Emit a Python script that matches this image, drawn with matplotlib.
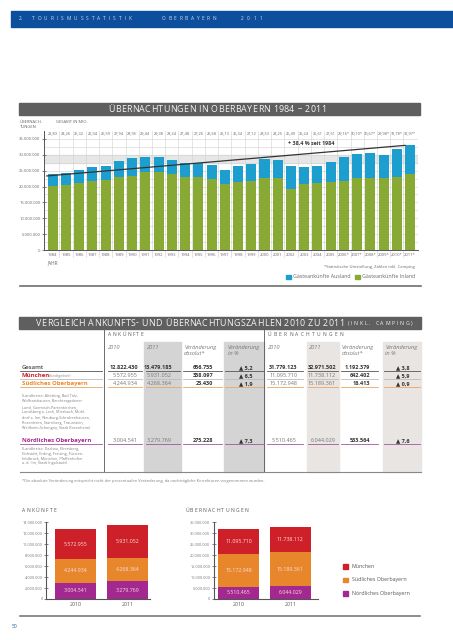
import matplotlib
matplotlib.use('Agg')
import matplotlib.pyplot as plt
from matplotlib.patches import Rectangle
from matplotlib.font_manager import FontProperties, findfont, get_font

plt.rcParams['font.family'] = ['Open Sans', 'DejaVu Sans']

W, H = 453, 640

# Übernachtungen in Oberbayern 1984 - 2011 (Mio.)
years = ['1984', '1985', '1986', '1987', '1988', '1989', '1990', '1991', '1992', '1993',
         '1994', '1995', '1996', '1997', '1998', '1999', '2000', '2001', '2002', '2003',
         '2004', '2005', '2006*', '2007*', '2008*', '2009*', '2010*', '2011*']
total_labels = ['23,83', '24,26', '25,32', '26,04', '26,59', '27,94', '28,95', '29,44', '29,38',
                '28,24', '27,48', '27,26', '26,68', '25,13', '26,34', '27,12', '28,53', '28,25',
                '26,49', '26,24', '26,61', '27,61', '29,16*', '30,10*', '30,67*', '29,98*',
                '31,78*', '32,97*']
total_mio = [23.83, 24.26, 25.32, 26.04, 26.59, 27.94, 28.95, 29.44, 29.38, 28.24, 27.48, 27.26,
             26.68, 25.13, 26.34, 27.12, 28.53, 28.25, 26.49, 26.24, 26.61, 27.61, 29.16, 30.10,
             30.67, 29.98, 31.78, 32.97]
inland_mio = [20.3, 20.6, 21.0, 21.6, 22.1, 23.0, 23.4, 24.7, 24.7, 24.1, 23.0, 22.9, 22.4, 20.8,
              21.4, 21.9, 22.7, 22.7, 19.2, 20.9, 21.0, 21.4, 21.9, 22.7, 22.7, 22.7, 23.1, 24.1]

# Vergleich 2010 / 2011
regions = ['München', 'Südliches Oberbayern', 'Nördliches Oberbayern']
ank_2010 = [5572955, 4244934, 3004541]
ank_2011 = [5931052, 4268364, 3279769]
ank_diff = [358097, 23430, 275228]
ank_pct = [6.5, 1.9, 7.3]
ueb_2010 = [11095710, 15172948, 5510465]
ueb_2011 = [11738112, 15189361, 6044029]
ueb_diff = [642402, 16413, 533564]
ueb_pct = [5.9, 0.9, 7.6]
gesamt = [12822430, 13479185, 656755, 5.2, 31779123, 32971502, 1192379, 3.8]

c_green = '#88aa34'
c_blue = '#1c9fcf'
c_region = ['#cd2028', '#e8862c', '#a3288f']
grey_txt = '#666666'


def de(n):
    return f'{n:,}'.replace(',', '.')


def pct(p):
    return ('▲ ' + f'{p:.1f}').replace('.', ',')


fig = plt.figure(figsize=(W / 100, H / 100), dpi=100)
ov = fig.add_axes([0, 0, 1, 1])
ov.set_xlim(0, W)
ov.set_ylim(H, 0)
ov.axis('off')


def ax_px(left, top, right, bottom):
    return fig.add_axes([left / W, 1 - bottom / H, (right - left) / W, (bottom - top) / H])


def advances(s, size, weight='normal'):
    font = get_font(findfont(FontProperties(family='Open Sans', weight=weight)))
    font.set_size(size, 100)
    return [font.load_char(ord(ch)).linearHoriAdvance / 65536 for ch in s]


def tracked(x, y, s, size, color, width, weight='normal', ha='left'):
    # letter-spaced caps stretched to a given width (px)
    ws = advances(s, size, weight)
    track = (width - sum(ws)) / (len(s) - 1)
    x0 = x - width / 2 if ha == 'center' else x
    for ch, w in zip(s, ws):
        if ch != ' ':
            ov.text(x0, y, ch, fontsize=size, color=color, weight=weight, ha='left', va='center')
        x0 += w + track


# page header
ov.add_patch(Rectangle((11, 10.7), W - 11, 16.6, color='#0d4f9c'))
hdr = '#d3def0'
ov.text(19, 19, '2.', fontsize=3.4, color=hdr, va='center')
tracked(31.7, 19, 'TOURISMUSSTATISTIK', 3.4, hdr, 100)
tracked(161.7, 19, 'OBERBAYERN', 3.4, hdr, 54.5)
tracked(240.7, 19, '2011', 3.4, hdr, 22)

# ---------------- top chart ----------------
ov.add_patch(Rectangle((19, 102.7), 401, 12, color='#5f5f5f'))
tracked(217, 109, 'ÜBERNACHTUNGEN IN OBERBAYERN 1984 – 2011', 6.4, '#f4f4f4', 218, ha='center')
ov.text(20, 122, 'ÜBERNACH-', fontsize=3, color=grey_txt, va='center')
ov.text(20, 127.5, 'TUNGEN', fontsize=3, color=grey_txt, va='center')
ov.text(56, 122, 'GESAMT IN MIO.', fontsize=3, color=grey_txt, va='center')

ax = ax_px(44.3, 131, 418, 250)
x = list(range(len(years)))
ausland = [t - i for t, i in zip(total_mio, inland_mio)]
ax.axhspan(27.5e6, 30e6, color='#e6e6e6', zorder=0)
for v in range(1, 15):
    ax.axhline(v * 2.5e6, color='#cfcfcf', lw=0.4, zorder=0.5)
for i in x[:-1]:
    ax.axvline(i + 0.5, color='#d2d2d2', lw=0.4, zorder=0.5)
    ax.plot([i + 0.5, i + 0.5], [0, -2.2e6], color='#cfcfcf', lw=0.4, clip_on=False)
ax.bar(x, [v * 1e6 for v in inland_mio], width=0.76, color=c_green, zorder=2)
ax.bar(x, [v * 1e6 for v in ausland], bottom=[v * 1e6 for v in inland_mio], width=0.76,
       color=c_blue, zorder=2)
for i, lab in zip(x, total_labels):
    ax.text(i, 36.75e6, lab, fontsize=2.8, color=grey_txt, ha='center', va='center')
ax.plot([x[0] - 0.45, x[-1] - 0.38], [total_mio[0] * 1e6 - 0.5e6, total_mio[-1] * 1e6],
        color='#333333', lw=0.9, zorder=3)
ax.text(19.5, 33.5e6, '+ 38,4 % seit 1984', fontsize=3.9, weight='bold', color='#3a3a3a',
        ha='center', va='center', zorder=4)
ax.set_xlim(-0.64, 27.6)
ax.set_ylim(0, 37.5e6)
ax.set_yticks([v * 5e6 for v in range(8)])
ax.set_yticklabels(['0'] + [de(v * 5000000) for v in range(1, 8)])
ax.set_xticks(x)
ax.set_xticklabels(years)
ax.tick_params(axis='y', direction='inout', length=2.5, width=0.5, labelsize=3,
               labelcolor=grey_txt, color='#555555', pad=1.5)
ax.tick_params(axis='x', length=0, labelsize=3, labelcolor=grey_txt, pad=2.5)
for s in ['top', 'right']:
    ax.spines[s].set_visible(False)
for s in ['left', 'bottom']:
    ax.spines[s].set_color('#555555')
    ax.spines[s].set_linewidth(0.7)
ax.set_facecolor('none')

ov.text(47.3, 262.7, 'JAHR', fontsize=3.3, color=grey_txt, va='center')
ov.text(415, 266.7, '*Statistische Umstellung, Zahlen inkl. Camping', fontsize=3.0,
        color=grey_txt, ha='right', va='center')
ov.add_patch(Rectangle((286, 274.7), 4.7, 4.7, color=c_blue))
ov.text(292.7, 277, 'Gästeankünfte Ausland', fontsize=3.8, color=grey_txt, va='center')
ov.add_patch(Rectangle((355.3, 274.7), 4.7, 4.7, color=c_green))
ov.text(361.7, 277, 'Gästeankünfte Inland', fontsize=3.8, color=grey_txt, va='center')
ov.plot([20, 420.7], [285.7, 285.7], color='#6e6e6e', lw=1.2)

# ---------------- table ----------------
ov.add_patch(Rectangle((19, 316.5), 401.7, 12.5, color='#5f5f5f'))
tracked(36, 323, 'VERGLEICH ANKUNFTS- UND ÜBERNACHTUNGSZAHLEN 2010 ZU 2011', 6.4, '#f4f4f4', 308)
tracked(347.5, 323.6, '(INKL. CAMPING)', 3.8, '#f4f4f4', 65)

top_t, bot_t = 341.7, 471.7
ov.add_patch(Rectangle((144.3, top_t), 36.4, bot_t - top_t, color='#d4d4d4'))
ov.add_patch(Rectangle((224, top_t), 40, bot_t - top_t, color='#d4d4d4'))
ov.add_patch(Rectangle((307, top_t), 31.7, bot_t - top_t, color='#e9e5e2'))
ov.add_patch(Rectangle((382.7, top_t), 38, bot_t - top_t, color='#e9e5e2'))
ov.plot([104.3, 104.3], [330, bot_t], color='#555555', lw=0.6)
ov.plot([264.3, 264.3], [330, bot_t], color='#555555', lw=0.6)
ov.plot([20, 420.7], [bot_t, bot_t], color='#888888', lw=0.8)

tracked(108.3, 335, 'ANKÜNFTE', 3.5, '#555555', 35)
tracked(267.7, 335, 'ÜBERNACHTUNGEN', 3.5, '#555555', 75)
sub = [(108.3, '2010', ''), (146.7, '2011', ''), (184, 'Veränderung', 'absolut*'),
       (227.7, 'Veränderung', 'in %'), (267.7, '2010', ''), (309.3, '2011', ''),
       (341.7, 'Veränderung', 'absolut*'), (385, 'Veränderung', 'in %')]
for sx, l1, l2 in sub:
    ov.text(sx, 347.5, l1, fontsize=4.1, style='italic', color='#777777', va='center')
    if l2:
        ov.text(sx, 353.2, l2, fontsize=4.1, style='italic', color='#777777', va='center')

col_right = [138, 172, 213.5, 252.5, 297, 336, 370, 409.5]
col_span = [(107.5, 142), (145.5, 179.5), (183, 222), (225, 262.5),
            (267, 303), (307.5, 337.5), (341, 378), (383.5, 419.5)]

rows = [gesamt]
for k in range(3):
    rows.append([ank_2010[k], ank_2011[k], ank_diff[k], ank_pct[k],
                 ueb_2010[k], ueb_2011[k], ueb_diff[k], ueb_pct[k]])
row_y = [367.3, 375.7, 383.7, 440.7]
row_line = ['#555555', '#bbbbbb', '#eba562', '#a4559c']
row_lab_col = ['#444444'] + c_region
row_names = ['Gesamt'] + regions

for r, (vals, yy) in enumerate(zip(rows, row_y)):
    ov.text(22, yy, row_names[r], fontsize=4.3, weight='bold' if r > 0 else 'semibold',
            color=row_lab_col[r], va='center')
    if r == 1:
        ov.text(48.5, yy + 0.3, '(Stadtgebiet)', fontsize=2.7, color='#888888', va='center')
    for c, v in enumerate(vals):
        txt = pct(v) if c in (3, 7) else de(v)
        bold = r == 0 or c in (2, 3, 6, 7)
        col = '#333333' if bold else '#777777'
        ov.text(col_right[c], yy, txt, fontsize=4.0, weight='bold' if bold else 'normal',
                color=col, ha='right', va='center')
        a, b = col_span[c]
        ov.plot([a, b], [yy + 3.6, yy + 3.6], color=row_line[r], lw=0.6)
    ov.plot([20, 102], [yy + 3.6, yy + 3.6], color=row_line[r], lw=0.6)

sued_desc = ['(Landkreise: Altötting, Bad Tölz-', 'Wolfratshausen, Berchtesgadener',
             'Land, Garmisch-Partenkirchen,', 'Landsberg a. Lech, Miesbach, Mühl-',
             'dorf a. Inn, Neuburg-Schrobenhausen,', 'Rosenheim, Starnberg, Traunstein,',
             'Weilheim-Schongau; Stadt Rosenheim)']
nord_desc = ['(Landkreise: Dachau, Ebersberg,', 'Eichstätt, Erding, Freising, Fürsten-',
             'feldbruck, München, Pfaffenhofen', 'a. d. Ilm; Stadt Ingolstadt)']
for k, line in enumerate(sued_desc):
    ov.text(22, 396 + k * 5.4, line, fontsize=2.7, color='#808080', va='center')
for k, line in enumerate(nord_desc):
    ov.text(22, 448.7 + k * 4.8, line, fontsize=2.7, color='#808080', va='center')

ov.text(22, 480.7, '*Die absolute Veränderung entspricht nicht der prozentualen Veränderung, '
        'da nachträgliche Korrekturen vorgenommen wurden.', fontsize=2.9, color='#808080',
        va='center')

# ---------------- bottom charts ----------------
tracked(22.3, 510.7, 'ANKÜNFTE', 3.6, '#555555', 34)
tracked(185, 510.7, 'ÜBERNACHTUNGEN', 3.6, '#555555', 63)


def stacked(axx, v2010, v2011, ymax, step, xl):
    # stack order from bottom: Nördliches, Südliches, München
    bottoms = [0, 0]
    for k in [2, 1, 0]:
        vals = [v2010[k], v2011[k]]
        axx.bar([0, 1], vals, bottom=bottoms, width=0.79, color=c_region[k], zorder=2)
        for i in range(2):
            axx.text(i, bottoms[i] + vals[i] / 2, de(vals[i]), fontsize=3.8, color='#f9dede',
                     ha='center', va='center', zorder=3)
        bottoms = [bottoms[i] + vals[i] for i in range(2)]
    axx.set_xlim(*xl)
    axx.set_ylim(0, ymax)
    ticks = list(range(0, ymax + 1, step))
    axx.set_yticks(ticks)
    axx.set_yticklabels(['0'] + [de(t) for t in ticks[1:]])
    axx.set_xticks([0, 1])
    axx.set_xticklabels(['2010', '2011'])
    axx.tick_params(axis='y', direction='inout', length=2.5, width=0.5, labelsize=2.8,
                    labelcolor='#777777', color='#555555', pad=1.2)
    axx.tick_params(axis='x', length=0, labelsize=3.8, labelcolor='#555555', pad=2)
    for s in ['top', 'right']:
        axx.spines[s].set_visible(False)
    for s in ['left', 'bottom']:
        axx.spines[s].set_color('#555555')
        axx.spines[s].set_linewidth(0.8)
    axx.set_facecolor('none')


ax1 = ax_px(46, 522.3, 150, 599)
stacked(ax1, ank_2010, ank_2011, 14000000, 2000000, (-0.567, 1.433))
ax2 = ax_px(213.5, 522.3, 318, 599)
stacked(ax2, ueb_2010, ueb_2011, 35000000, 5000000, (-0.48, 1.53))

for k, yy in enumerate([566.7, 580, 593.3]):
    ov.add_patch(Rectangle((343.3, yy - 2.4), 4.8, 4.8, color=c_region[k]))
    ov.text(351.7, yy, regions[k], fontsize=3.8, color='#555555', va='center')

ov.plot([20, 420], [615.7, 615.7], color='#6e6e6e', lw=1.1)
ov.text(12, 627, '50', fontsize=3.6, color='#2a62a8', va='center')

fig.savefig('out.png', dpi=100)
